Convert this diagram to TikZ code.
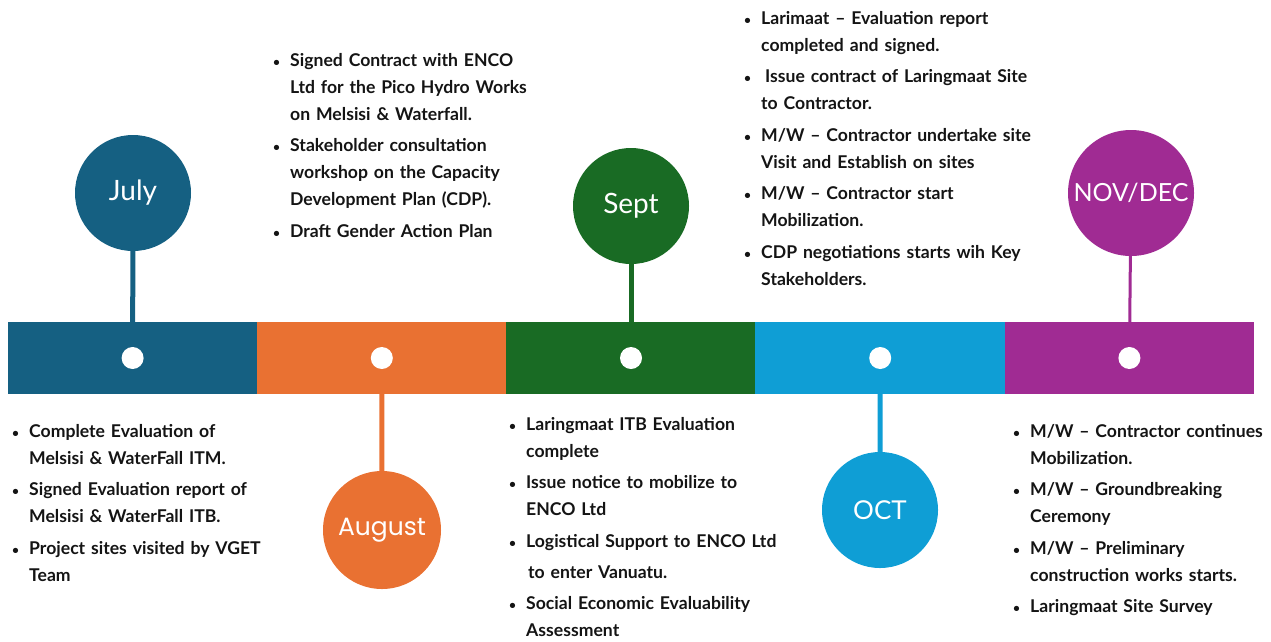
\documentclass[tikz,border=0pt]{standalone}
\usepackage{fontspec}
\usepackage{enumitem}
\usepackage{xcolor}
\setmainfont{Lato}
\newfontfamily\popfont{Poppins}

\definecolor{julyblue}{HTML}{156082}
\definecolor{augorange}{HTML}{E97132}
\definecolor{septgreen}{HTML}{196B24}
\definecolor{octblue}{HTML}{0F9ED5}
\definecolor{novpurple}{HTML}{A02B93}
\definecolor{bodytext}{HTML}{141414}

\newlist{tlitems}{itemize}{1}
\setlist[tlitems]{label={\fontsize{12}{12}\selectfont\textbullet}, align=left, labelwidth=10pt, labelsep=7pt,
  leftmargin=17pt, topsep=0pt, partopsep=0pt, parsep=0pt, itemsep=4.5pt}

\begin{document}
\begin{tikzpicture}[x=1pt, y=-1pt,
    seg/.style={rectangle, minimum width=249.6pt, minimum height=72pt, inner sep=0pt},
    dot/.style={circle, fill=white, minimum size=22pt, inner sep=0pt},
    month/.style={circle, inner sep=0pt, text=white, font=\fontsize{25}{25}\selectfont},
    stem/.style={line width=5pt},
    notes/.style={anchor=north west, inner sep=0pt, text width=300pt, text=bodytext,
      font=\fontsize{17.6}{27}\selectfont\bfseries}]
  \useasboundingbox (0,0) rectangle (1271,641);

  % Bar
  \node[seg, fill=julyblue] (seg1) at (132.6,358) {};
  \node[seg, fill=augorange] (seg2) at (381.8,358) {};
  \node[seg, fill=septgreen] (seg3) at (631,358) {};
  \node[seg, fill=octblue] (seg4) at (880.2,358) {};
  \node[seg, fill=novpurple] (seg5) at (1129.4,358) {};
  \node[dot] (d1) at (seg1) {};
  \node[dot] (d2) at (seg2) {};
  \node[dot] (d3) at (seg3) {};
  \node[dot] (d4) at (seg4) {};
  \node[dot] (d5) at (seg5) {};

  % Months
  \node[month, fill=julyblue, minimum size=116pt, font=\fontsize{28}{28}\selectfont] (july) at (133,193) {July};
  \node[month, fill=augorange, minimum size=118pt, font=\popfont\fontsize{25}{25}\selectfont] (aug) at (382,530) {August};
  \node[month, fill=septgreen, minimum size=116pt, font=\fontsize{28}{28}\selectfont] (sept) at (631,206) {Sept};
  \node[month, fill=octblue, minimum size=116pt, font=\fontsize{26}{26}\selectfont] (oct) at (880,510) {OCT};
  \node[month, fill=novpurple, minimum size=126pt] (nov) at (1131,193) {NOV/DEC};

  % Stems
  \draw[stem, julyblue] (july) -- (seg1);
  \draw[stem, augorange] (aug) -- (seg2);
  \draw[stem, septgreen] (sept) -- (seg3);
  \draw[stem, octblue] (oct) -- (seg4);
  \draw[stem, novpurple, line width=3pt] (nov) -- (seg5);

  % Notes
  \node[notes] (julynotes) at (12,410) {%
    \begin{tlitems}
      \item Complete Evaluation of\newline Melsisi \& WaterFall ITM.
      \item Signed Evaluation report of\newline Melsisi \& WaterFall ITB.
      \item Project sites visited by VGET\newline Team
    \end{tlitems}};
  \node[notes] (augnotes) at (273,39) {%
    \begin{tlitems}
      \item Signed Contract with ENCO\newline Ltd for the Pico Hydro Works\newline on Melsisi \& Waterfall.
      \item Stakeholder consultation\newline workshop on the Capacity\newline Development Plan (CDP).
      \item Draft Gender Action Plan
    \end{tlitems}};
  \node[notes] (septnotes) at (744,-3) {%
    \begin{tlitems}
      \item Larimaat \textendash{} Evaluation report\newline completed and signed.
      \item \hspace{4pt}Issue contract of Laringmaat Site\newline to Contractor.
      \item M/W \textendash{} Contractor undertake site\newline Visit and Establish on sites
      \item M/W \textendash{} Contractor start\newline Mobilization.
      \item CDP negotiations starts wih Key\newline Stakeholders.
    \end{tlitems}};
  \node[notes] (septnotes2) at (509,403) {%
    \begin{tlitems}
      \item Laringmaat ITB Evaluation\newline complete
      \item Issue notice to mobilize to\newline ENCO Ltd
      \item Logistical Support to ENCO Ltd\\[4pt]\hspace*{2pt}to enter Vanuatu.
      \item Social Economic Evaluability\newline Assessment
    \end{tlitems}};
  \node[notes] (novnotes) at (1013,410) {%
    \begin{tlitems}
      \item M/W \textendash{} Contractor continues\newline Mobilization.
      \item M/W \textendash{} Groundbreaking\newline Ceremony
      \item M/W \textendash{} Preliminary\newline construction works starts.
      \item Laringmaat Site Survey
    \end{tlitems}};
\end{tikzpicture}
\end{document}
